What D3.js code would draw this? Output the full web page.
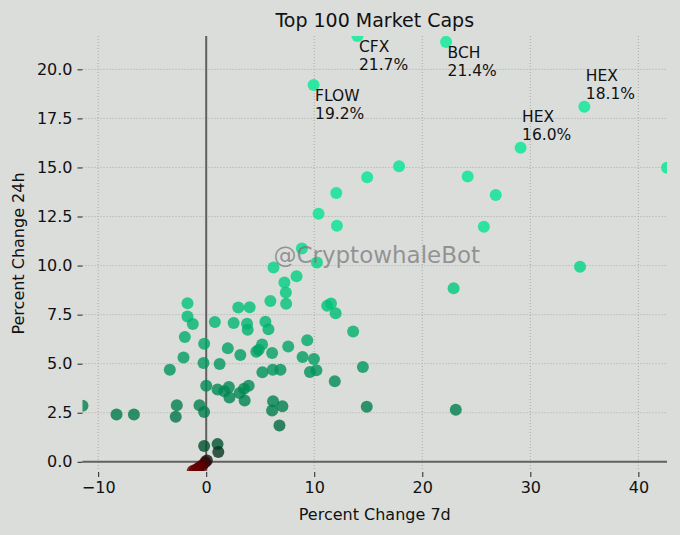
<!DOCTYPE html>
<html>
<head>
<meta charset="utf-8">
<script src="https://cdn.jsdelivr.net/npm/d3@7"></script>
<style>
  html, body { margin: 0; padding: 0; background: #dbdddb; }
  svg { display: block; font-family: "DejaVu Sans", sans-serif; }
</style>
</head>
<body>
<svg id="chart" width="680" height="535"></svg>
<script>
// ---- data ----
const pctChange7d = [
  -11.45, -8.3, -6.69, -3.37, -2.72, -2.82, -2.1, -1.98, -1.73, -1.73,
  -1.24, -0.62, -0.19, -0.25, 0.0, -0.19, -0.19, 0.06, -0.1, -0.35,
  -0.6, -0.82, -1.05, -1.25, 0.8, 1.24, 1.05, 1.12, 1.05, 1.67,
  2.0, 2.1, 2.15, 2.54, 2.97, 3.16, 3.1, 3.5, 3.56, 3.93,
  3.78, 3.84, 4.02, 4.64, 4.86, 5.17, 5.2, 5.48, 5.76, 5.94,
  6.1, 6.16, 6.19, 6.1, 6.87, 7.05, 6.78, 7.37, 7.24, 7.4,
  7.59, 8.36, 8.92, 9.35, 9.6, 9.97, 10.2, 11.2, 11.55, 11.98,
  11.9, 13.6, 14.5, 14.86, 23.1, 6.23, 8.86, 10.25, 10.4, 12.1,
  12.04, 14.9, 17.85, 22.9, 24.2, 26.8, 25.7, 34.6, 29.1, 35.0,
  42.65, 14.0, 22.2, 9.94
];
const pctChange24h = [
  2.86, 2.41, 2.41, 4.69, 2.88, 2.29, 5.31, 6.36, 8.08, 7.41,
  7.02, 2.88, 6.02, 5.03, 3.88, 2.54, 0.8, 0.07, -0.03, -0.18,
  -0.27, -0.36, -0.43, -0.47, 7.12, 4.98, 0.9, 0.5, 3.68, 3.59,
  5.78, 3.81, 3.28, 7.07, 7.86, 5.44, 3.5, 3.72, 3.12, 3.88,
  7.03, 6.73, 7.88, 5.61, 5.71, 5.98, 4.56, 7.14, 6.76, 8.2,
  5.54, 4.69, 3.08, 2.61, 4.69, 2.83, 1.85, 8.63, 9.14, 8.05,
  5.88, 9.45, 5.34, 6.19, 4.58, 5.24, 4.66, 7.95, 8.07, 7.57,
  4.1, 6.64, 4.83, 2.8, 2.65, 9.9, 10.87, 10.16, 12.64, 12.03,
  13.7, 14.5, 15.06, 8.84, 14.54, 13.6, 11.98, 9.94, 16.0, 18.1,
  14.98, 21.7, 21.4, 19.2
];
// annotated coins (7d, 24h, symbol)
const labelSymbols = ["CFX", "BCH", "FLOW", "HEX", "HEX"];
const label7d = [14.0, 22.2, 9.94, 29.1, 35.0];
const label24h = [21.7, 21.4, 19.2, 16.0, 18.1];

const xTicks = [-10, 0, 10, 20, 30, 40];
const yTicks = [0, 2.5, 5, 7.5, 10, 12.5, 15, 17.5, 20];

// ---- layout ----
const W = 680, H = 535;
const pL = 82.5, pR = 667, pT = 36, pB = 471;
const svg = d3.select("#chart");
svg.append("rect").attr("width", W).attr("height", H).attr("fill", "#dbdddb");

const x = d3.scaleLinear().domain([d3.min(pctChange7d), d3.max(pctChange7d)]).range([pL, pR]);
const y = d3.scaleLinear().domain([d3.min(pctChange24h), d3.max(pctChange24h)]).range([pB, pT]);

const color = d3.scaleLinear()
  .domain([-0.47, -0.1, 0.05, 0.8, 2.5, 4, 5.5, 8, 12, 22])
  .range(["#6a0000", "#4a0000", "#141010", "#00502d", "#007d4b", "#008c55", "#00a062", "#00c378", "#02e491", "#05ec96"])
  .clamp(true);

// grid
const grid = svg.append("g").attr("stroke", "#a9aba9").attr("stroke-width", 1).attr("stroke-dasharray", "1,2");
grid.selectAll("line.v").data(xTicks).join("line").attr("class", "v")
  .attr("x1", d => x(d)).attr("x2", d => x(d)).attr("y1", pT).attr("y2", pB);
grid.selectAll("line.h").data(yTicks).join("line").attr("class", "h")
  .attr("y1", d => y(d)).attr("y2", d => y(d)).attr("x1", pL).attr("x2", pR);

// axes (ticks + labels) via d3 axes
const xAxis = d3.axisBottom(x).tickValues(xTicks).tickSize(5).tickPadding(5).tickFormat(d3.format("d"));
const yAxis = d3.axisLeft(y).tickValues(yTicks).tickSize(5).tickPadding(5).tickFormat(d3.format(".1f"));
const gx = svg.append("g").attr("transform", `translate(0,${pB + 1})`).call(xAxis);
const gy = svg.append("g").attr("transform", `translate(${pL},0)`).call(yAxis);
[gx, gy].forEach(g => {
  g.select(".domain").remove();
  g.selectAll(".tick line").attr("stroke", "#222").attr("stroke-width", 1);
  g.selectAll(".tick text").attr("fill", "#111").style("font-size", "16px").style("font-family", "DejaVu Sans, sans-serif");
});

// zero lines
svg.append("line").attr("x1", x(0)).attr("x2", x(0)).attr("y1", pT).attr("y2", pB)
  .attr("stroke", "#4d4d4d").attr("stroke-width", 2).attr("opacity", 0.85);
svg.append("line").attr("x1", pL).attr("x2", pR).attr("y1", y(0)).attr("y2", y(0))
  .attr("stroke", "#4d4d4d").attr("stroke-width", 2).attr("opacity", 0.85);

// clip for points
svg.append("clipPath").attr("id", "plotclip").append("rect")
  .attr("x", pL).attr("y", pT).attr("width", pR - pL).attr("height", pB - pT);

const pts = pctChange7d.map((v, i) => ({ x7: v, y24: pctChange24h[i] }));
svg.append("g").attr("clip-path", "url(#plotclip)")
  .selectAll("circle").data(pts).join("circle")
  .attr("cx", d => x(d.x7)).attr("cy", d => y(d.y24)).attr("r", 6)
  .attr("fill", d => color(d.y24)).attr("fill-opacity", 0.8);

// watermark
svg.append("text").attr("x", (pL + pR) / 2 + 2).attr("y", 263)
  .attr("text-anchor", "middle").attr("fill", "#7a7a7a").attr("fill-opacity", 0.75)
  .style("font-size", "23px").text("@CryptowhaleBot");

// annotations
labelSymbols.forEach((s, i) => {
  const px = x(label7d[i]), py = y(label24h[i]);
  const below = label24h[i] > 19;
  const b1 = below ? py + 16 : py - 26;
  const t = svg.append("text").attr("fill", "#111").style("font-size", "15.5px");
  t.append("tspan").attr("x", px + 1.5).attr("y", b1).text(s);
  t.append("tspan").attr("x", px + 1.5).attr("y", b1 + 18.4).text(label24h[i].toFixed(1) + "%");
});

// title and axis labels
svg.append("text").attr("x", (pL + pR) / 2).attr("y", 27).attr("text-anchor", "middle")
  .attr("fill", "#111").style("font-size", "19px").text("Top 100 Market Caps");
svg.append("text").attr("x", (pL + pR) / 2).attr("y", 520).attr("text-anchor", "middle")
  .attr("fill", "#111").style("font-size", "16px").text("Percent Change 7d");
svg.append("text").attr("transform", `translate(24,${(pT + pB) / 2}) rotate(-90)`)
  .attr("text-anchor", "middle").attr("fill", "#111").style("font-size", "16px").text("Percent Change 24h");
</script>
</body>
</html>
